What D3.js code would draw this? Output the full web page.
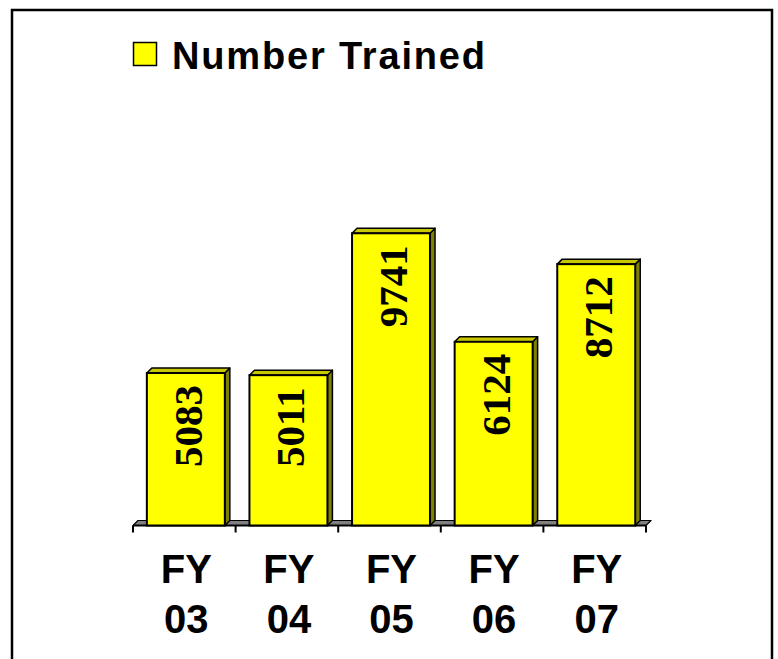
<!DOCTYPE html>
<html>
<head>
<meta charset="utf-8">
<script src="https://cdn.jsdelivr.net/npm/d3@7"></script>
<style>
  html, body { margin: 0; padding: 0; background: #fff; }
  svg { display: block; }
</style>
</head>
<body>
<svg id="chart" width="778" height="659"></svg>
<script>
// ---- data ----
const categoriesLine1 = ["FY", "FY", "FY", "FY", "FY"];
const categoriesLine2 = ["03", "04", "05", "06", "07"];
const values = [5083, 5011, 9741, 6124, 8712];
const seriesName = "Number Trained";

const categories = categoriesLine1.map((a, i) => a + " " + categoriesLine2[i]);

// ---- layout ----
const svg = d3.select("#chart");
const plotLeft = 133, plotRight = 646, baseY = 525.5;
const depthX = 5, depthY = 5;

const x = d3.scaleBand().domain(categories).range([plotLeft, plotRight]).padding(0);
const y = d3.scaleLinear().domain([0, 10000]).range([baseY, baseY - 300]);

const frontColor = "#FFFF00", sideColor = "#808000", topColor = "#C8C800";

// outer border
svg.append("rect")
  .attr("x", 12).attr("y", 10).attr("width", 760).attr("height", 700)
  .attr("fill", "none").attr("stroke", "#000").attr("stroke-width", 2.5);

// legend
svg.append("rect")
  .attr("x", 133.5).attr("y", 42.5).attr("width", 23).attr("height", 23)
  .attr("fill", frontColor).attr("stroke", "#000").attr("stroke-width", 1.5);
svg.append("text")
  .attr("x", 172).attr("y", 68.5)
  .attr("font-family", "'Liberation Sans', Arial, sans-serif")
  .attr("font-weight", "bold").attr("font-size", 38)
  .attr("textLength", 313).attr("lengthAdjust", "spacing")
  .attr("fill", "#000")
  .text(seriesName);

// floor
const y0 = y(0);
svg.append("path")
  .attr("d", `M${plotLeft},${y0} L${plotRight},${y0} L${plotRight + depthX},${y0 - depthY} L${plotLeft + depthX},${y0 - depthY} Z`)
  .attr("fill", "#808080").attr("stroke", "#000").attr("stroke-width", 1.2)
  .attr("stroke-linejoin", "round");
svg.append("line")
  .attr("x1", plotLeft).attr("x2", plotRight).attr("y1", y0).attr("y2", y0)
  .attr("stroke", "#000").attr("stroke-width", 2);

// ticks at category boundaries
const tickXs = categories.map(c => x(c)).concat([x(categories[categories.length - 1]) + x.step()]);
svg.selectAll("line.tick").data(tickXs).enter().append("line")
  .attr("class", "tick")
  .attr("x1", d => d).attr("x2", d => d)
  .attr("y1", y0).attr("y2", y0 + 7)
  .attr("stroke", "#000").attr("stroke-width", 2);

// bars
const barOff = x.step() * 0.135, barW = x.step() * 0.76;
const bars = svg.selectAll("g.bar").data(values).enter().append("g").attr("class", "bar");

bars.each(function(v, i) {
  const g = d3.select(this);
  const bx = x(categories[i]) + barOff;
  const by = y(v);
  // side face
  g.append("path")
    .attr("d", `M${bx + barW},${y0} L${bx + barW},${by} L${bx + barW + depthX},${by - depthY} L${bx + barW + depthX},${y0 - depthY} Z`)
    .attr("fill", sideColor).attr("stroke", "#000").attr("stroke-width", 1.5).attr("stroke-linejoin", "round");
  // top face
  g.append("path")
    .attr("d", `M${bx},${by} L${bx + depthX},${by - depthY} L${bx + barW + depthX},${by - depthY} L${bx + barW},${by} Z`)
    .attr("fill", topColor).attr("stroke", "#000").attr("stroke-width", 1.5).attr("stroke-linejoin", "round");
  // front face
  g.append("rect")
    .attr("x", bx).attr("y", by).attr("width", barW).attr("height", y0 - by)
    .attr("fill", frontColor).attr("stroke", "#000").attr("stroke-width", 2);
  // value label (rotated)
  const lx = bx + barW / 2 + 16;
  const ly = by + 12;
  g.append("text")
    .attr("transform", `translate(${lx},${ly}) rotate(-90)`)
    .attr("text-anchor", "end")
    .attr("font-family", "'Liberation Serif', 'Times New Roman', serif")
    .attr("font-weight", "bold").attr("font-size", 41)
    .attr("fill", "#000")
    .text(v);
});

// category labels
const cat = svg.selectAll("text.cat").data(categories).enter().append("text")
  .attr("class", "cat")
  .attr("text-anchor", "middle")
  .attr("font-family", "'Liberation Sans', Arial, sans-serif")
  .attr("font-weight", "bold").attr("font-size", 40)
  .attr("fill", "#000");
cat.append("tspan")
  .attr("x", (d) => x(d) + x.step() / 2 + 2).attr("y", 583)
  .text((d, i) => categoriesLine1[i]);
cat.append("tspan")
  .attr("x", (d) => x(d) + x.step() / 2 + 2).attr("y", 633)
  .text((d, i) => categoriesLine2[i]);
</script>
</body>
</html>
